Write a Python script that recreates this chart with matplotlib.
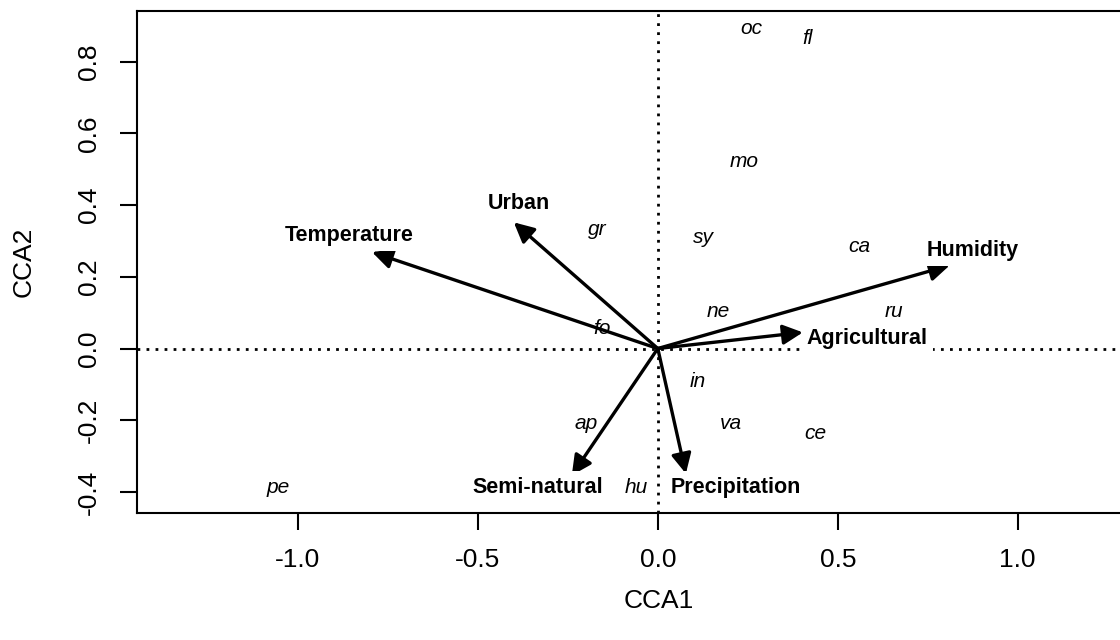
import matplotlib
matplotlib.use("Agg")
import matplotlib.pyplot as plt
import numpy as np

plt.rcParams['font.family'] = ['Liberation Sans', 'DejaVu Sans']

# species scores (CCA1, CCA2)
species = ['oc', 'fl', 'mo', 'gr', 'sy', 'ca', 'ne', 'ru', 'fo',
           'in', 'ap', 'va', 'ce', 'pe', 'hu']
sp_x = [0.261, 0.417, 0.239, -0.169, 0.128, 0.561, 0.169, 0.656, -0.156,
        0.111, -0.200, 0.203, 0.439, -1.056, -0.061]
sp_y = [0.892, 0.864, 0.521, 0.332, 0.309, 0.284, 0.103, 0.103, 0.056,
        -0.092, -0.209, -0.209, -0.237, -0.387, -0.387]

# environmental variables: arrow tips and label positions
env = ['Temperature', 'Urban', 'Humidity', 'Agricultural',
       'Precipitation', 'Semi-natural']
env_x = [-0.794, -0.400, 0.811, 0.403, 0.078, -0.239]
env_y = [0.269, 0.352, 0.232, 0.045, -0.349, -0.354]
lab_x = [-0.858, -0.386, 0.875, 0.581, 0.217, -0.333]
lab_y = [0.316, 0.405, 0.274, 0.029, -0.387, -0.387]

xticks = [-1.0, -0.5, 0.0, 0.5, 1.0]
yticks = [-0.4, -0.2, 0.0, 0.2, 0.4, 0.6, 0.8]

fig = plt.figure(figsize=(11.2, 6.4), dpi=100)
# right edge of the box runs past the figure
ax = fig.add_axes([0.1223, 0.1984, 0.931, 0.784])
ax.set_xlim(-1.447, 1.45)
ax.set_ylim(-0.459, 0.941)

dots = (0, (1, 2.25))
ax.axhline(0, color='black', lw=2, linestyle=dots, zorder=1)
ax.axvline(0, color='black', lw=2, linestyle=dots, zorder=1)

for s, x, y in zip(species, sp_x, sp_y):
    ax.text(x, y, s, ha='center', va='center', fontsize=15,
            style='italic', zorder=2)

for x, y in zip(env_x, env_y):
    ax.annotate('', xy=(x, y), xytext=(0, 0),
                arrowprops=dict(arrowstyle='-|>,head_length=0.6,head_width=0.3',
                                mutation_scale=20, lw=2.4, color='black',
                                shrinkA=0, shrinkB=0), zorder=3)

for s, x, y in zip(env, lab_x, lab_y):
    ax.text(x, y, s, ha='center', va='center', fontsize=15.5,
            fontweight='bold', zorder=4,
            bbox=dict(facecolor='white', edgecolor='none', pad=4))

ax.set_xticks(xticks)
ax.set_xticklabels(['%.1f' % v for v in xticks])
ax.set_yticks(yticks)
ax.set_yticklabels(['%.1f' % v for v in yticks], rotation=90, va='center')
ax.tick_params(axis='both', direction='out', length=12, width=1.5,
               labelsize=19)
ax.tick_params(axis='x', pad=13)
ax.tick_params(axis='y', pad=14)
for sp in ax.spines.values():
    sp.set_linewidth(1.5)

ax.set_xlabel('CCA1', fontsize=19, va='center')
ax.set_ylabel('CCA2', fontsize=19, va='center')
ax.xaxis.set_label_coords(0.5, -0.175)
ax.yaxis.set_label_coords(-0.109, 0.5)

plt.savefig('out.png', dpi=100)
